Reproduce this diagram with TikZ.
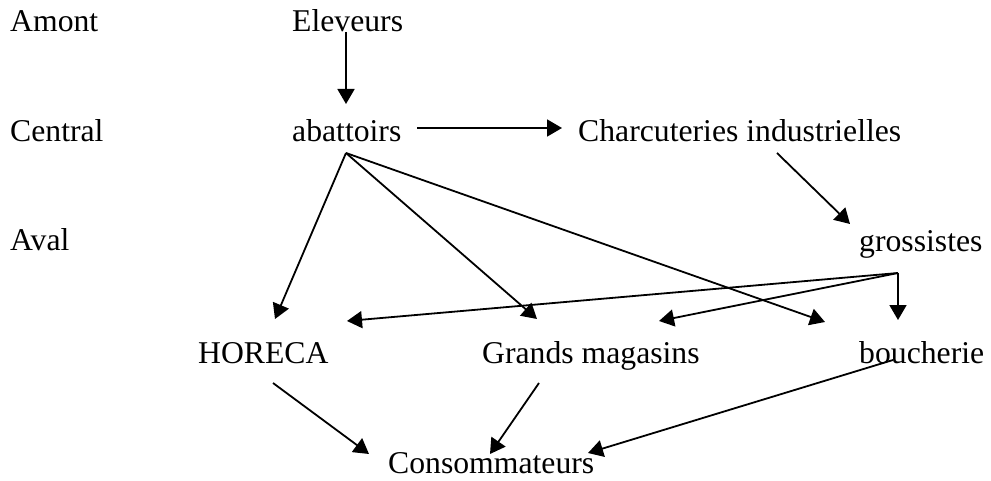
\documentclass[tikz,border=0pt]{standalone}
\usepackage{fontspec}
\setmainfont{Liberation Serif}
\usetikzlibrary{arrows.meta}
\tikzset{
  lbl/.style={anchor=base west, inner sep=0pt, font=\fontsize{31.7}{38}\selectfont},
  conn/.style={line width=1.8pt, -{Triangle[length=15pt,width=17pt]}}
}
\begin{document}
\begin{tikzpicture}[x=1pt,y=-1pt]
\useasboundingbox (0,0) rectangle (991,481);
% labels
\node[lbl] (amont) at (10,32) {Amont};
\node[lbl] (central) at (10,142) {Central};
\node[lbl] (aval) at (10,251) {Aval};
% nodes
\node[lbl] (elev) at (292,32) {Eleveurs};
\node[lbl] (abat) at (292,142) {abattoirs};
\node[lbl] (charc) at (578,142) {Charcuteries industrielles};
\node[lbl] (gross) at (859,252) {grossistes};
\node[lbl] (horeca) at (198,363) {HORECA};
\node[lbl] (gm) at (482,363) {Grands magasins};
\node[lbl] (bouch) at (859,363) {boucherie};
\node[lbl] (cons) at (388,473) {Consommateurs};
% connector end points
\coordinate (elev-s) at (346,32);
\coordinate (abat-n) at (346,104);
\coordinate (abat-e) at (417,128);
\coordinate (charc-w) at (562,128);
\coordinate (abat-s) at (346,153);
\coordinate (horeca-n) at (275,319);
\coordinate (gm-nw) at (537,319);
\coordinate (bouch-nw) at (825,322);
\coordinate (charc-s) at (777,153);
\coordinate (gross-n) at (850,224);
\coordinate (gross-s) at (898,273);
\coordinate (horeca-ne) at (347,321);
\coordinate (gm-ne) at (659,321);
\coordinate (bouch-n) at (898,320);
\coordinate (horeca-s) at (273,383);
\coordinate (cons-nw) at (369,454);
\coordinate (gm-s) at (539,383);
\coordinate (cons-n) at (490,454);
\coordinate (bouch-s) at (893,360);
\coordinate (cons-e) at (588,453);
% connectors
\draw[conn] (elev-s) -- (abat-n);
\draw[conn] (abat-e) -- (charc-w);
\draw[conn] (abat-s) -- (horeca-n);
\draw[conn] (abat-s) -- (gm-nw);
\draw[conn] (abat-s) -- (bouch-nw);
\draw[conn] (charc-s) -- (gross-n);
\draw[conn] (gross-s) -- (horeca-ne);
\draw[conn] (gross-s) -- (gm-ne);
\draw[conn] (gross-s) -- (bouch-n);
\draw[conn] (horeca-s) -- (cons-nw);
\draw[conn] (gm-s) -- (cons-n);
\draw[conn] (bouch-s) -- (cons-e);
\end{tikzpicture}
\end{document}
